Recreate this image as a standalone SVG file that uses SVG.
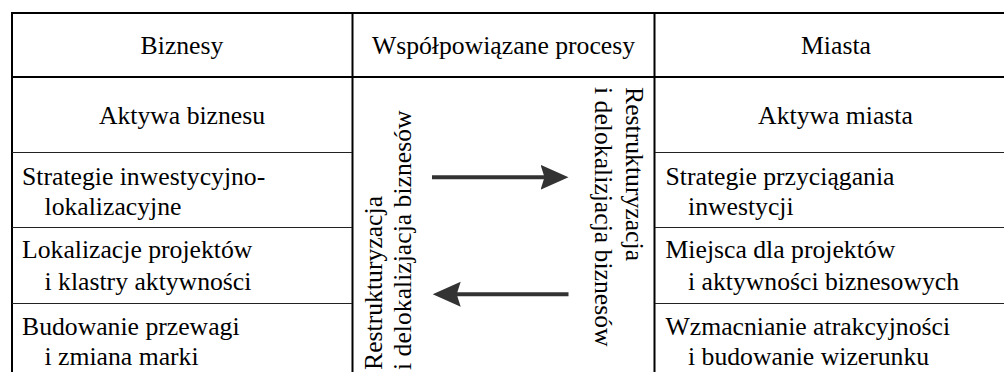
<svg xmlns="http://www.w3.org/2000/svg" width="1004" height="372" viewBox="0 0 1004 372">
<defs>
<style>
text{font-family:"Liberation Serif","Times New Roman",serif;font-size:25.7px;fill:#000;}
.c{text-anchor:middle;}
.thick{stroke:#000;stroke-width:2;fill:none;}
.thin{stroke:#222;stroke-width:1;fill:none;}
.arr{stroke:#333;stroke-width:4;fill:none;}
</style>
<marker id="ah" markerUnits="userSpaceOnUse" markerWidth="30" markerHeight="28" viewBox="0 0 30 28" refX="20" refY="13" orient="auto">
<path d="M0,0.5 L28,13 L0,25.5 L4,13 Z" fill="#333"/>
</marker>
</defs>
<rect width="1004" height="372" fill="#fff"/>
<g id="grid">
<line class="thick" x1="11" y1="13" x2="1004" y2="13"/>
<line class="thick" x1="12" y1="12" x2="12" y2="372"/>
<line class="thick" x1="11" y1="77" x2="1004" y2="77"/>
<line class="thick" x1="352.5" y1="13" x2="352.5" y2="372"/>
<line class="thick" x1="654.5" y1="13" x2="654.5" y2="372"/>
<line class="thin" x1="12" y1="152.5" x2="352" y2="152.5"/>
<line class="thin" x1="12" y1="227.5" x2="352" y2="227.5"/>
<line class="thin" x1="12" y1="303.5" x2="352" y2="303.5"/>
<line class="thin" x1="655" y1="152.5" x2="1004" y2="152.5"/>
<line class="thin" x1="655" y1="227.5" x2="1004" y2="227.5"/>
<line class="thin" x1="655" y1="303.5" x2="1004" y2="303.5"/>
</g>
<g id="header-biznesy"><text class="c" x="182" y="54">Biznesy</text></g>
<g id="header-procesy"><text class="c" x="503.5" y="54">Współpowiązane procesy</text></g>
<g id="header-miasta"><text class="c" x="836" y="54">Miasta</text></g>
<g id="aktywa-biznesu"><text class="c" x="182" y="124">Aktywa biznesu</text></g>
<g id="strategie-inw"><text x="22" y="185">Strategie inwestycyjno-</text><text x="44.5" y="215">lokalizacyjne</text></g>
<g id="lokalizacje"><text x="22" y="258">Lokalizacje projektów</text><text x="44.5" y="290">i klastry aktywności</text></g>
<g id="budowanie"><text x="22" y="335">Budowanie przewagi</text><text x="44.5" y="365">i zmiana marki</text></g>
<g id="aktywa-miasta"><text class="c" x="835.5" y="124">Aktywa miasta</text></g>
<g id="strategie-przyc"><text x="665.5" y="185">Strategie przyciągania</text><text x="688" y="215">inwestycji</text></g>
<g id="miejsca"><text x="665.5" y="258">Miejsca dla projektów</text><text x="688" y="290">i aktywności biznesowych</text></g>
<g id="wzmacnianie"><text x="665.5" y="335">Wzmacnianie atrakcyjności</text><text x="688" y="365">i budowanie wizerunku</text></g>
<g id="proces-lewy">
<text transform="translate(381.5,370) rotate(-90)">Restrukturyzacja</text>
<text transform="translate(411,370) rotate(-90)">i delokalizjacja biznesów</text>
</g>
<g id="proces-prawy">
<text transform="translate(625.5,87) rotate(90)">Restrukturyzacja</text>
<text transform="translate(595,87) rotate(90)">i delokalizjacja biznesów</text>
</g>
<g id="connectors">
<line class="arr" x1="432" y1="177.3" x2="560.5" y2="177.3" marker-end="url(#ah)"/>
<line class="arr" x1="568.5" y1="294.3" x2="440.7" y2="294.3" marker-end="url(#ah)"/>
</g>
</svg>
